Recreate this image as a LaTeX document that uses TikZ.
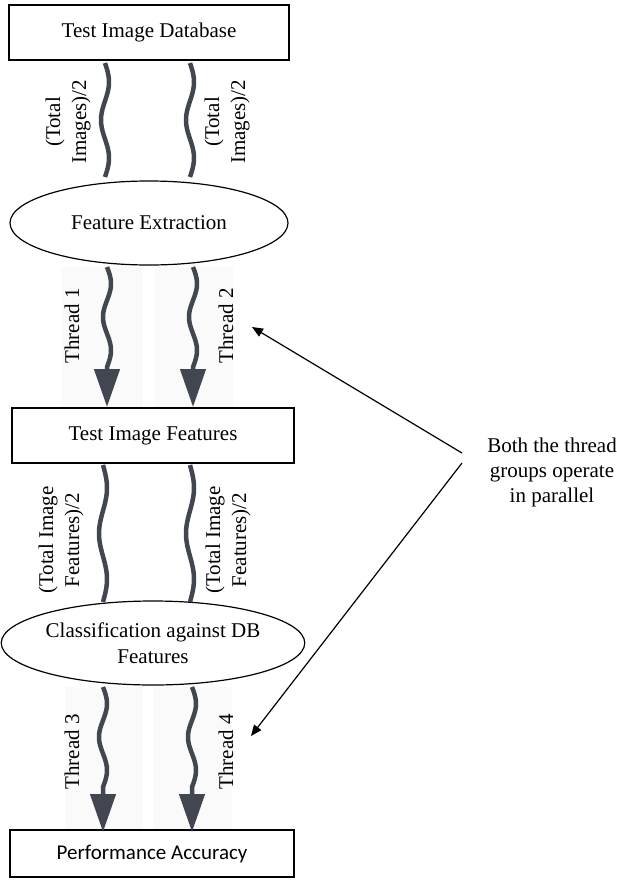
\documentclass[tikz,border=0pt]{standalone}
\usepackage{fontspec}
\setmainfont{Liberation Serif}
\newfontfamily\calibfont{Carlito}
\usetikzlibrary{shapes.geometric, arrows.meta}
\definecolor{threadgray}{RGB}{65,70,80}
\definecolor{shadegray}{RGB}{250,250,250}

\tikzset{
    box/.style={draw, line width=1.2pt, inner sep=0pt},
    oval/.style={ellipse, draw, line width=1.2pt, inner sep=0pt, align=center},
    wave/.style={threadgray, line width=4.5pt, line join=round},
    thread/.style={threadgray, line width=4.5pt, line join=round, -{Triangle[width=25pt,length=38pt]}},
    lbl/.style={rotate=90, align=center},
    pointer/.style={line width=1.2pt, -{Triangle[width=9pt,length=11pt]}}
}

\begin{document}
\begin{tikzpicture}[x=1pt, y=-1pt, font=\fontsize{21}{26}\selectfont]
            \useasboundingbox (0,0) rectangle (616,886);

            % shaded thread lanes
            \fill[shadegray] (62,267) rectangle (143,407);
            \fill[shadegray] (155,267) rectangle (233,407);
            \fill[shadegray] (65,687) rectangle (143,830);
            \fill[shadegray] (153,687) rectangle (232,830);

            \node[box, minimum width=280pt, minimum height=55pt] (db) at (149,32.5) {Test Image Database};
            \node[oval, minimum width=278pt, minimum height=84pt] (fe) at (149,223) {Feature Extraction};
            \node[box, minimum width=282pt, minimum height=55pt] (tf) at (153,435.5) {Test Image Features};
            \node[oval, minimum width=280pt, minimum height=84pt] (cl) at (153,643) {Classification against DB\\Features};
            \node[box, minimum width=284pt, minimum height=47pt] (pa) at (152,853.5) {\calibfont Performance Accuracy};

            \coordinate (w1a) at (105,63);
            \coordinate (w2a) at (190,63);
            \coordinate (t1a) at (107,267); \coordinate (t1b) at (107,407);
            \coordinate (t2a) at (193,267); \coordinate (t2b) at (193,407);
            \coordinate (w3a) at (103,465);
            \coordinate (w4a) at (190,465);
            \coordinate (t3a) at (103,687); \coordinate (t3b) at (103,832);
            \coordinate (t4a) at (192,687); \coordinate (t4b) at (192,832);

            % wavy splits
            \foreach \s in {w1a,w2a}
                \draw[wave, shift={(\s)}] plot[domain=0:114, samples=60, smooth] ({4*sin(\x/114*540)}, \x);
            \foreach \s in {w3a,w4a}
                \draw[wave, shift={(\s)}] plot[domain=0:137, samples=60, smooth] ({4*sin(\x/137*540)}, \x);

            % threads
            \foreach \s/\e in {t1a/t1b,t2a/t2b,t3a/t3b,t4a/t4b}
                \draw[thread] (\s) [shift={(\s)}] plot[domain=0:100, samples=50, smooth] ({4*sin(\x/100*540)}, \x) -- (\e);

            \node[lbl] (l1) at (68,122) {(Total\\Images)/2};
            \node[lbl] (l2) at (227,122) {(Total\\Images)/2};
            \node[lbl] (l3) at (72,326) {Thread 1};
            \node[lbl] (l4) at (226,326) {Thread 2};
            \node[lbl] (l5) at (61,540) {(Total Image\\Features)/2};
            \node[lbl] (l6) at (228,540) {(Total Image\\Features)/2};
            \node[lbl] (l7) at (72,752) {Thread 3};
            \node[lbl] (l8) at (226,752) {Thread 4};

            \node[align=center, font=\fontsize{21}{25}\selectfont] (note) at (552,472) {Both the thread\\groups operate\\in parallel};
            \coordinate (n1) at (462,453);
            \coordinate (n2) at (462,463);
            \coordinate (p1) at (252,327);
            \coordinate (p2) at (251,736);
            \draw[pointer] (n1) -- (p1);
            \draw[pointer] (n2) -- (p2);
        \end{tikzpicture}
\end{document}
